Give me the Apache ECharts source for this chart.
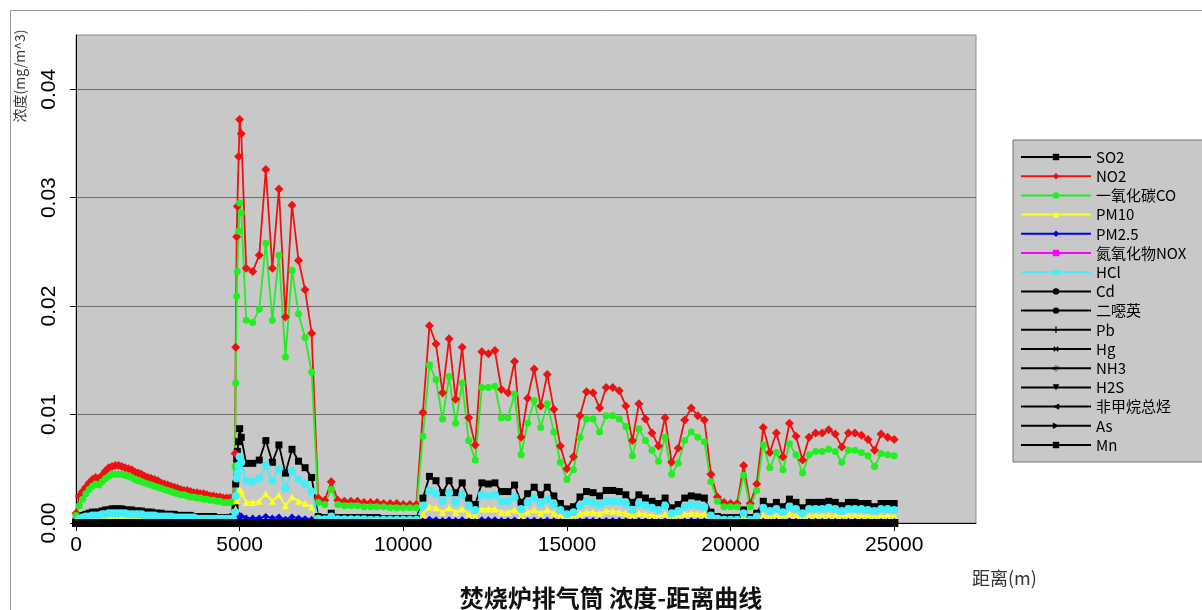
<!DOCTYPE html>
<html>
<head>
<meta charset="utf-8">
<script src="https://cdn.jsdelivr.net/npm/echarts@6/dist/echarts.min.js"></script>
<style>
  html, body { margin: 0; padding: 0; background: #ffffff; }
  #chart { width: 1202px; height: 610px; }
</style>
</head>
<body>
<div id="chart"></div>
<script>
// Receptor distances (m): near field every 100 m, the steep rise near 5 km, then every 200 m
const distance = [
  0,100,200,300,400,500,600,700,800,900,
  1000,1100,1200,1300,1400,1500,1600,1700,1800,1900,
  2000,2100,2200,2300,2400,2500,2600,2700,2800,2900,
  3000,3100,3200,3300,3400,3500,3600,3700,3800,3900,
  4000,4100,4200,4300,4400,4500,4600,4700,4800,
  4860,4880,4910,4930,4970,5000,5050,
  5200,5400,5600,5800,6000,6200,6400,6600,6800,7000,
  7200,7400,7600,7800,8000,8200,8400,8600,8800,9000,
  9200,9400,9600,9800,10000,10200,10400,10600,10800,11000,
  11200,11400,11600,11800,12000,12200,12400,12600,12800,13000,
  13200,13400,13600,13800,14000,14200,14400,14600,14800,15000,
  15200,15400,15600,15800,16000,16200,16400,16600,16800,17000,
  17200,17400,17600,17800,18000,18200,18400,18600,18800,19000,
  19200,19400,19600,19800,20000,20200,20400,20600,20800,21000,
  21200,21400,21600,21800,22000,22200,22400,22600,22800,23000,
  23200,23400,23600,23800,24000,24200,24400,24600,24800,25000
];

// Concentrations (mg/m^3), one value per distance
const so2 = [
  0.0002,0.0005,0.0007,0.0008,0.0009,0.0010,0.0010,0.0010,0.0011,0.0012,
  0.0012,0.0013,0.0013,0.0013,0.0013,0.0012,0.0012,0.0012,0.0011,0.0011,
  0.0011,0.0010,0.0010,0.0010,0.0009,0.0009,0.0009,0.0008,0.0008,0.0008,
  0.0008,0.0007,0.0007,0.0007,0.0007,0.0007,0.0006,0.0006,0.0006,0.0006,
  0.0006,0.0006,0.0006,0.0005,0.0005,0.0005,0.0005,0.0005,0.0006,
  0.0014,0.0036,0.0059,0.0066,0.0075,0.0087,0.0079,
  0.0055,0.0055,0.0058,0.0076,0.0056,0.0072,0.0046,0.0068,0.0057,0.0051,
  0.0042,0.0006,0.0005,0.0009,0.0005,0.0005,0.0005,0.0005,0.0005,0.0005,
  0.0005,0.0004,0.0004,0.0004,0.0004,0.0004,0.0004,0.0023,0.0043,0.0039,
  0.0028,0.0039,0.0028,0.0037,0.0023,0.0017,0.0037,0.0036,0.0037,0.0029,
  0.0029,0.0035,0.0019,0.0027,0.0033,0.0026,0.0033,0.0025,0.0018,0.0013,
  0.0015,0.0024,0.0029,0.0028,0.0025,0.0030,0.0030,0.0029,0.0026,0.0019,
  0.0026,0.0023,0.0020,0.0018,0.0023,0.0014,0.0017,0.0023,0.0025,0.0024,
  0.0023,0.0010,0.0006,0.0005,0.0005,0.0005,0.0012,0.0005,0.0009,0.0020,
  0.0015,0.0019,0.0015,0.0022,0.0019,0.0014,0.0019,0.0019,0.0019,0.0020,
  0.0019,0.0016,0.0019,0.0019,0.0018,0.0018,0.0015,0.0018,0.0018,0.0018
];

const no2 = [
  0.0009,0.0025,0.0029,0.0033,0.0037,0.0040,0.0042,0.0041,0.0044,0.0048,
  0.0051,0.0052,0.0053,0.0053,0.0052,0.0051,0.0050,0.0049,0.0047,0.0046,
  0.0045,0.0043,0.0042,0.0041,0.0040,0.0039,0.0037,0.0036,0.0035,0.0034,
  0.0033,0.0032,0.0031,0.0030,0.0030,0.0029,0.0028,0.0028,0.0027,0.0027,
  0.0026,0.0025,0.0025,0.0024,0.0024,0.0023,0.0023,0.0023,0.0024,
  0.0064,0.0162,0.0264,0.0292,0.0338,0.0372,0.0359,
  0.0235,0.0232,0.0247,0.0326,0.0235,0.0308,0.0190,0.0293,0.0242,0.0215,
  0.0175,0.0023,0.0021,0.0038,0.0021,0.0020,0.0020,0.0020,0.0019,0.0019,
  0.0019,0.0018,0.0018,0.0018,0.0017,0.0017,0.0017,0.0102,0.0182,0.0165,
  0.0120,0.0170,0.0114,0.0162,0.0097,0.0072,0.0158,0.0156,0.0159,0.0123,
  0.0120,0.0149,0.0079,0.0115,0.0142,0.0108,0.0137,0.0105,0.0071,0.0050,
  0.0061,0.0099,0.0121,0.0120,0.0106,0.0125,0.0125,0.0122,0.0108,0.0076,
  0.0110,0.0096,0.0083,0.0071,0.0097,0.0056,0.0069,0.0095,0.0106,0.0099,
  0.0095,0.0045,0.0024,0.0019,0.0018,0.0018,0.0053,0.0018,0.0036,0.0088,
  0.0065,0.0083,0.0061,0.0092,0.0080,0.0058,0.0079,0.0083,0.0083,0.0086,
  0.0082,0.0070,0.0083,0.0083,0.0081,0.0077,0.0067,0.0082,0.0079,0.0077
];

const co = [
  0.0007,0.0016,0.0022,0.0027,0.0031,0.0034,0.0036,0.0035,0.0038,0.0041,
  0.0043,0.0045,0.0045,0.0045,0.0045,0.0044,0.0043,0.0042,0.0040,0.0039,
  0.0038,0.0037,0.0036,0.0035,0.0034,0.0033,0.0032,0.0031,0.0030,0.0029,
  0.0028,0.0027,0.0026,0.0026,0.0025,0.0024,0.0024,0.0023,0.0023,0.0022,
  0.0022,0.0021,0.0021,0.0020,0.0020,0.0019,0.0019,0.0019,0.0020,
  0.0052,0.0129,0.0209,0.0232,0.0269,0.0295,0.0286,
  0.0187,0.0185,0.0197,0.0258,0.0187,0.0247,0.0153,0.0233,0.0193,0.0171,
  0.0139,0.0019,0.0017,0.0031,0.0017,0.0016,0.0016,0.0016,0.0015,0.0015,
  0.0015,0.0015,0.0014,0.0014,0.0014,0.0014,0.0014,0.0080,0.0146,0.0132,
  0.0096,0.0135,0.0092,0.0129,0.0076,0.0058,0.0125,0.0125,0.0126,0.0097,
  0.0097,0.0119,0.0063,0.0092,0.0113,0.0088,0.0110,0.0084,0.0056,0.0040,
  0.0049,0.0079,0.0096,0.0096,0.0084,0.0099,0.0099,0.0096,0.0089,0.0062,
  0.0087,0.0076,0.0067,0.0057,0.0079,0.0045,0.0055,0.0076,0.0084,0.0079,
  0.0075,0.0038,0.0020,0.0015,0.0015,0.0015,0.0044,0.0015,0.0030,0.0072,
  0.0051,0.0065,0.0049,0.0073,0.0063,0.0046,0.0063,0.0066,0.0066,0.0068,
  0.0066,0.0056,0.0067,0.0067,0.0065,0.0062,0.0052,0.0064,0.0063,0.0062
];

const pm10 = [
  0.0001,0.0002,0.0003,0.0003,0.0003,0.0004,0.0004,0.0004,0.0004,0.0004,
  0.0005,0.0005,0.0005,0.0005,0.0005,0.0004,0.0004,0.0004,0.0004,0.0004,
  0.0004,0.0004,0.0004,0.0004,0.0003,0.0003,0.0003,0.0003,0.0003,0.0003,
  0.0003,0.0003,0.0003,0.0003,0.0003,0.0003,0.0002,0.0002,0.0002,0.0002,
  0.0002,0.0002,0.0002,0.0002,0.0002,0.0002,0.0002,0.0002,0.0002,
  0.0005,0.0013,0.0021,0.0024,0.0027,0.0031,0.0029,
  0.0019,0.0019,0.0020,0.0027,0.0020,0.0026,0.0016,0.0024,0.0020,0.0018,
  0.0015,0.0002,0.0002,0.0003,0.0002,0.0002,0.0002,0.0002,0.0002,0.0002,
  0.00015,0.00015,0.00015,0.00015,0.00015,0.00015,0.00015,0.0008,0.0015,0.0014,
  0.0010,0.0014,0.0010,0.0013,0.0008,0.0006,0.0013,0.0013,0.0013,0.0010,
  0.0010,0.0012,0.0007,0.0010,0.0012,0.0009,0.0012,0.0009,0.0006,0.00045,
  0.00055,0.00085,0.0010,0.0010,0.0009,0.0011,0.0011,0.0010,0.0009,0.0007,
  0.0009,0.0008,0.0007,0.0006,0.0008,0.0005,0.0006,0.0008,0.0009,0.00085,
  0.0008,0.0004,0.0002,0.0002,0.0002,0.0002,0.00045,0.0002,0.0003,0.0007,
  0.00055,0.0007,0.0005,0.0008,0.0007,0.0005,0.0007,0.0007,0.0007,0.0007,
  0.0007,0.0006,0.0007,0.0007,0.00065,0.00065,0.00055,0.00065,0.00065,0.00065
];

const pm25 = [
  0.00002,0.00004,0.00006,0.00006,0.00007,0.00008,0.00008,0.00008,0.00009,0.0001,
  0.0001,0.0001,0.0001,0.0001,0.0001,0.0001,0.0001,0.0001,0.00009,0.00009,
  0.00009,0.00008,0.00008,0.00008,0.00007,0.00007,0.00007,0.00006,0.00006,0.00006,
  0.00006,0.00006,0.00006,0.00006,0.00005,0.00005,0.00005,0.00005,0.00005,0.00005,
  0.00005,0.00005,0.00005,0.00004,0.00004,0.00004,0.00004,0.00004,0.00005,
  0.0001,0.0003,0.00045,0.0005,0.0006,0.0007,0.00065,
  0.00045,0.00045,0.00045,0.0006,0.00045,0.00055,0.00035,0.00055,0.00045,0.0004,
  0.00035,0.00005,0.00004,0.00007,0.00004,0.00004,0.00004,0.00004,0.00004,0.00004,
  0.00003,0.00003,0.00003,0.00003,0.00003,0.00003,0.00003,0.00018,0.00034,0.00031,
  0.00022,0.00031,0.00022,0.0003,0.00018,0.00014,0.0003,0.00029,0.0003,0.00023,
  0.00023,0.00028,0.00015,0.00022,0.00026,0.00021,0.00026,0.0002,0.00014,0.0001,
  0.00012,0.00019,0.00023,0.00022,0.0002,0.00024,0.00024,0.00023,0.00021,0.00015,
  0.00021,0.00018,0.00016,0.00014,0.00018,0.00011,0.00014,0.00018,0.0002,0.00019,
  0.00018,0.00008,0.00005,0.00004,0.00004,0.00004,0.0001,0.00004,0.00007,0.00016,
  0.00012,0.00015,0.00012,0.00018,0.00015,0.00011,0.00015,0.00015,0.00015,0.00016,
  0.00015,0.00013,0.00015,0.00015,0.00014,0.00014,0.00012,0.00014,0.00014,0.00014
];

const hcl = [
  0.0001,0.0004,0.0005,0.0006,0.0006,0.0007,0.0007,0.0007,0.0008,0.0008,
  0.0009,0.0009,0.0009,0.0009,0.0009,0.0009,0.0008,0.0008,0.0008,0.0008,
  0.0008,0.0007,0.0007,0.0007,0.0007,0.0006,0.0006,0.0006,0.0006,0.0006,
  0.0005,0.0005,0.0005,0.0005,0.0005,0.0005,0.0005,0.0004,0.0004,0.0004,
  0.0004,0.0004,0.0004,0.0004,0.0004,0.0004,0.0004,0.0004,0.0004,
  0.0010,0.0025,0.0041,0.0046,0.0053,0.0061,0.0056,
  0.0039,0.0038,0.0041,0.0053,0.0039,0.0050,0.0032,0.0048,0.0040,0.0036,
  0.0029,0.0004,0.00035,0.0006,0.00035,0.00035,0.00035,0.00035,0.00035,0.0003,
  0.0003,0.0003,0.0003,0.0003,0.0003,0.0003,0.0003,0.0016,0.0030,0.0027,
  0.0020,0.0028,0.0019,0.0026,0.0016,0.0012,0.0026,0.0025,0.0026,0.0020,
  0.0020,0.0024,0.0013,0.0019,0.0023,0.0018,0.0022,0.0017,0.0012,0.0008,
  0.0010,0.0016,0.0020,0.0019,0.0017,0.0020,0.0020,0.0020,0.0018,0.0012,
  0.0018,0.0016,0.0014,0.0012,0.0016,0.0009,0.0011,0.0015,0.0017,0.0016,
  0.0015,0.0007,0.0004,0.0003,0.0003,0.0003,0.0009,0.0003,0.0006,0.0014,
  0.0011,0.0013,0.0010,0.0015,0.0013,0.0009,0.0013,0.0013,0.0013,0.0014,
  0.0013,0.0011,0.0013,0.0013,0.0013,0.0012,0.0011,0.0013,0.0013,0.0012
];

// Pollutants whose concentrations stay at the baseline over the whole range
const traceLevel = [
  0,0,0,0,0,0,0,0,0,0, 0,0,0,0,0,0,0,0,0,0,
  0,0,0,0,0,0,0,0,0,0, 0,0,0,0,0,0,0,0,0,0,
  0,0,0,0,0,0,0,0,0,
  0,0,0,0,0,0,0,
  0,0,0,0,0,0,0,0,0,0, 0,0,0,0,0,0,0,0,0,0,
  0,0,0,0,0,0,0,0,0,0, 0,0,0,0,0,0,0,0,0,0,
  0,0,0,0,0,0,0,0,0,0, 0,0,0,0,0,0,0,0,0,0,
  0,0,0,0,0,0,0,0,0,0, 0,0,0,0,0,0,0,0,0,0,
  0,0,0,0,0,0,0,0,0,0, 0,0,0,0,0,0,0,0,0,0
];

const xTickValues = [0, 5000, 10000, 15000, 20000, 25000];
const yTickValues = [0, 0.01, 0.02, 0.03, 0.04];

const NUM_FONT = "'Liberation Sans',Arial,sans-serif";
const CJK_FONT = "'Noto Sans CJK SC','Noto Sans',sans-serif";

const PATH_PLUS = 'path://M4 0H6V4H10V6H6V10H4V6H0V4H4Z';
const PATH_STAR = 'path://M4.5 0h1v3.8l3.3-1.9.5.9-3.3 1.9 3.3 1.9-.5.9-3.3-1.9V10h-1V6.2l-3.3 1.9-.5-.9 3.3-1.9-3.3-1.9.5-.9 3.3 1.9z';

const seriesDefs = [
  { name: 'SO2',       values: so2,  color: '#000000', symbol: 'rect',     size: 7 },
  { name: 'NO2',       values: no2,  color: '#ee1111', symbol: 'diamond',  size: 9 },
  { name: '一氧化碳CO', values: co,   color: '#22ee22', symbol: 'circle',   size: 7 },
  { name: 'PM10',      values: pm10, color: '#ffff22', symbol: 'triangle', size: 7 },
  { name: 'PM2.5',     values: pm25, color: '#0000ee', symbol: 'diamond',  size: 7 },
  { name: '氮氧化物NOX', values: traceLevel, color: '#ff00ff', symbol: 'rect', size: 7 },
  { name: 'HCl',       values: hcl,  color: '#44eef8', symbol: 'circle',   size: 8 },
  { name: 'Cd',        values: traceLevel, color: '#000000', symbol: 'circle', size: 8 },
  { name: '二噁英',     values: traceLevel, color: '#000000', symbol: 'circle', size: 8 },
  { name: 'Pb',        values: traceLevel, color: '#000000', symbol: PATH_PLUS, size: 7 },
  { name: 'Hg',        values: traceLevel, color: '#000000', symbol: PATH_PLUS, size: 7, rotate: 45 },
  { name: 'NH3',       values: traceLevel, color: '#000000', symbol: PATH_STAR, size: 7 },
  { name: 'H2S',       values: traceLevel, color: '#000000', symbol: 'triangle', size: 8, rotate: 180 },
  { name: '非甲烷总烃', values: traceLevel, color: '#000000', symbol: 'triangle', size: 8, rotate: 90 },
  { name: 'As',        values: traceLevel, color: '#000000', symbol: 'triangle', size: 8, rotate: -90 },
  { name: 'Mn',        values: traceLevel, color: '#000000', symbol: 'rect',     size: 8 }
];

const chart = echarts.init(document.getElementById('chart'), null, { renderer: 'canvas' });

chart.setOption({
  animation: false,
  backgroundColor: '#ffffff',
  grid: {
    left: 76, right: 226, top: 35, bottom: 87,
    containLabel: false,
    outerBoundsMode: 'none',
    show: true,
    backgroundColor: '#c8c8c8',
    borderColor: '#8a8a8a',
    borderWidth: 1
  },
  xAxis: {
    type: 'value',
    min: 0, max: 27500, interval: 5000,
    axisLine: { show: true, onZero: false, lineStyle: { color: '#000000', width: 1 } },
    axisTick: { show: true, length: 8, customValues: xTickValues, lineStyle: { color: '#000000' } },
    axisLabel: {
      customValues: xTickValues,
      formatter: v => String(v),
      fontFamily: NUM_FONT, fontSize: 21, color: '#000000', margin: 12
    },
    splitLine: { show: false }
  },
  yAxis: {
    type: 'value',
    min: 0, max: 0.045, interval: 0.01,
    axisLine: { show: true, onZero: false, lineStyle: { color: '#000000', width: 1 } },
    axisTick: { show: true, length: 6, customValues: yTickValues, lineStyle: { color: '#000000' } },
    axisLabel: {
      customValues: yTickValues,
      rotate: 90,
      formatter: v => v.toFixed(2),
      fontFamily: NUM_FONT, fontSize: 21, color: '#000000', margin: 16
    },
    splitLine: { show: true, lineStyle: { color: '#6e6e6e', width: 1 } }
  },
  legend: {
    orient: 'vertical',
    left: 1013, top: 140,
    padding: [9, 30, 9, 7],
    itemWidth: 70, itemHeight: 8, itemGap: 3.2,
    backgroundColor: '#c8c8c8',
    borderColor: '#707070', borderWidth: 1,
    selectedMode: false,
    textStyle: { fontFamily: CJK_FONT, fontSize: 15, lineHeight: 16, color: '#000000' },
    data: seriesDefs.map(s => s.name)
  },
  graphic: [
    {
      type: 'rect', silent: true, z: -10,
      shape: { x: 10.5, y: 10.5, width: 1200, height: 610 },
      style: { fill: 'none', stroke: '#9a9a9a', lineWidth: 1 }
    },
    {
      type: 'text', silent: true,
      x: 20, y: 76, rotation: Math.PI / 2,
      style: { text: '浓度(mg/m^3)', font: "14px 'Noto Sans CJK SC'", fill: '#333333', align: 'center', verticalAlign: 'middle' }
    },
    {
      type: 'text', silent: true,
      x: 972, y: 578,
      style: { text: '距离(m)', font: "18px 'Noto Sans CJK SC'", fill: '#333333', align: 'left', verticalAlign: 'middle' }
    },
    {
      type: 'text', silent: true,
      x: 611, y: 598,
      style: { text: '焚烧炉排气筒 浓度-距离曲线', font: "bold 24px 'Noto Sans CJK SC'", fill: '#111111', align: 'center', verticalAlign: 'middle' }
    }
  ],
  series: seriesDefs.map(s => ({
    type: 'line',
    name: s.name,
    data: distance.map((d, i) => [d, s.values[i]]),
    symbol: s.symbol,
    symbolSize: s.size,
    symbolRotate: s.rotate || 0,
    showSymbol: true,
    showAllSymbol: true,
    clip: false,
    silent: true,
    lineStyle: { color: s.color, width: 1.8 },
    itemStyle: { color: s.color },
    emphasis: { disabled: true }
  }))
});
</script>
</body>
</html>
